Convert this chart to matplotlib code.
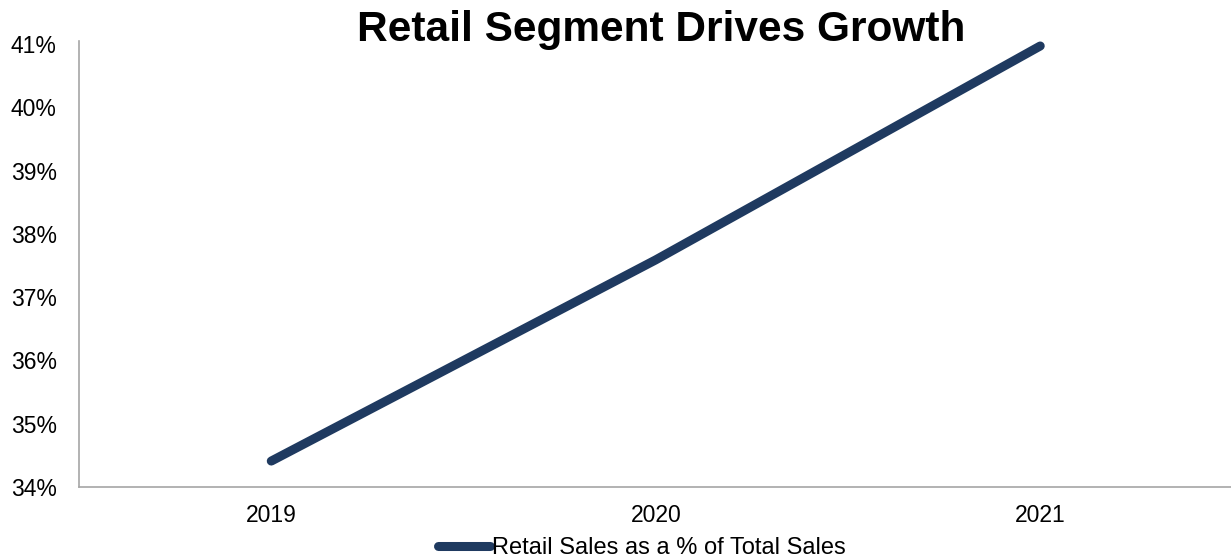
import matplotlib
matplotlib.use('Agg')
import matplotlib.pyplot as plt
from matplotlib.ticker import FuncFormatter

# data
years = ['2019', '2020', '2021']
retail_share = [34.41, 37.59, 40.97]
y_ticks = [34, 35, 36, 37, 38, 39, 40, 41]

plt.rcParams['font.family'] = ['Liberation Sans', 'DejaVu Sans']

fig = plt.figure(figsize=(12.31, 5.59), dpi=100)
ax = fig.add_axes([0.0642, 0.1288, 0.937, 0.798])

ax.plot(range(len(years)), retail_share, color='#1f3a60', lw=6.5,
        solid_capstyle='round', label='Retail Sales as a % of Total Sales')

ax.set_xlim(-0.5, 2.5)
ax.set_ylim(34, 41.05)
ax.set_xticks(range(len(years)))
ax.set_xticklabels(years)
ax.set_yticks(y_ticks)
ax.yaxis.set_major_formatter(FuncFormatter(lambda v, p: f'{v:.0f}%'))
ax.tick_params(length=0, labelsize=16.5, colors='black')
ax.tick_params(axis='x', pad=12)
ax.tick_params(axis='y', pad=16)

for s in ['top', 'right']:
    ax.spines[s].set_visible(False)
for s in ['left', 'bottom']:
    ax.spines[s].set_color('#a6a6a6')
    ax.spines[s].set_linewidth(1.2)

fig.text(0.537, 0.947, 'Retail Segment Drives Growth', ha='center', va='center',
         fontsize=30.5, fontweight='bold')

leg = fig.legend(loc='center', bbox_to_anchor=(0.5215, 0.02), frameon=False,
                 fontsize=17, handlelength=2.2, handletextpad=0.1)

fig.savefig('out.png', dpi=100)
